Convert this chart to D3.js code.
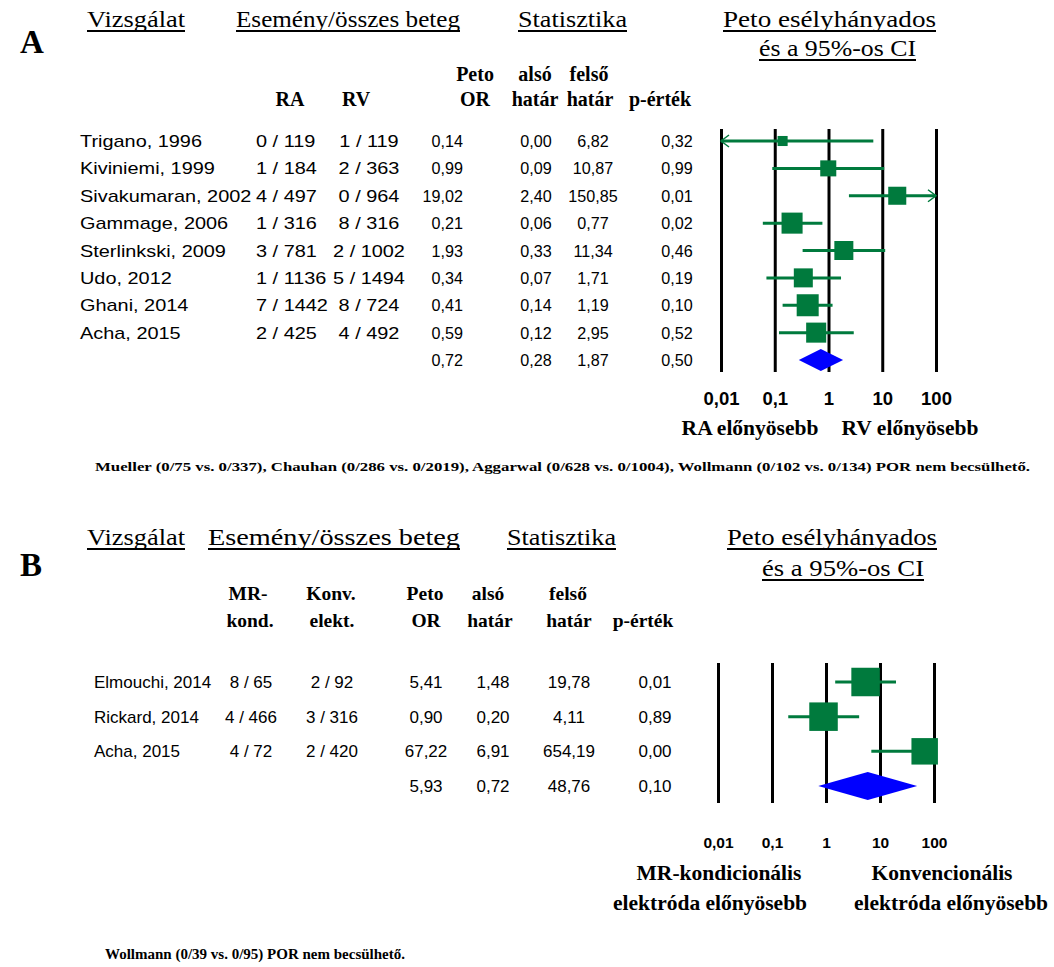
<!DOCTYPE html>
<html>
<head>
<meta charset="utf-8">
<script src="https://cdn.jsdelivr.net/npm/d3@7"></script>
<style>
body { margin: 0; background: #fff; }
svg { display: block; }
</style>
</head>
<body>
<svg id="chart" width="1054" height="967"></svg>
<script>
'use strict';

// --- panel A: RA vs RV ---
const studiesA = ['Trigano, 1996', 'Kiviniemi, 1999', 'Sivakumaran, 2002', 'Gammage, 2006',
	'Sterlinkski, 2009', 'Udo, 2012', 'Ghani, 2014', 'Acha, 2015'];
const raA = ['0 / 119', '1 / 184', '4 / 497', '1 / 316', '3 / 781', '1 / 1136', '7 / 1442', '2 / 425'];
const rvA = ['1 / 119', '2 / 363', '0 / 964', '8 / 316', '2 / 1002', '5 / 1494', '8 / 724', '4 / 492'];
const orA = [0.14, 0.99, 19.02, 0.21, 1.93, 0.34, 0.41, 0.59];
const lowA = [0.00, 0.09, 2.40, 0.06, 0.33, 0.07, 0.14, 0.12];
const highA = [6.82, 10.87, 150.85, 0.77, 11.34, 1.71, 1.19, 2.95];
const pA = [0.32, 0.99, 0.01, 0.02, 0.46, 0.19, 0.10, 0.52];
const weightA = [3.7, 9.4, 11.9, 16.2, 13.2, 13.2, 17.7, 14.7];
const pooledA = [0.72, 0.28, 1.87, 0.50]; // OR, lower, upper, p
const footA = 'Mueller (0/75 vs. 0/337), Chauhan (0/286 vs. 0/2019), Aggarwal (0/628 vs. 0/1004), Wollmann (0/102 vs. 0/134) POR nem becsülhető.';

// --- panel B: MR-conditional vs conventional lead ---
const studiesB = ['Elmouchi, 2014', 'Rickard, 2014', 'Acha, 2015'];
const mrB = ['8 / 65', '4 / 466', '4 / 72'];
const konvB = ['2 / 92', '3 / 316', '2 / 420'];
const orB = [5.41, 0.90, 67.22];
const lowB = [1.48, 0.20, 6.91];
const highB = [19.78, 4.11, 654.19];
const pB = [0.01, 0.89, 0.00];
const weightB = [34.9, 34.9, 30.1];
const pooledB = [5.93, 0.72, 48.76, 0.10];
const footB = 'Wollmann (0/39 vs. 0/95) POR nem becsülhető.';

const tickValues = [0.01, 0.1, 1, 10, 100];

const svg = d3.select('#chart');
const serif = '"Liberation Serif", "Times New Roman", serif';
const sans = '"Liberation Sans", Arial, sans-serif';
const green = '#007a3d';
const blue = '#0000ff';
const huLocale = d3.formatLocale({decimal: ',', thousands: ' ', grouping: [3], currency: ['', '']});
const fmt2 = huLocale.format('.2f');
const fmtTick = d => String(d).replace('.', ',');

function addText(parent, txt, x, y, o) {
	o = o || {};
	const t = parent.append('text')
		.attr('transform', `translate(${x},${y}) scale(${o.sx || 1},1)`)
		.attr('text-anchor', o.anchor || 'start')
		.style('font-family', o.family || sans)
		.style('font-size', (o.size || 16) + 'px')
		.style('font-weight', o.weight || 'normal')
		.text(txt);
	if (o.length) {
		t.attr('textLength', o.length).attr('lengthAdjust', 'spacingAndGlyphs');
	}
	return t;
}

function addHeader(parent, txt, x, y, width, size) {
	addText(parent, txt, x, y, {family: serif, size: size, length: width});
	parent.append('line')
		.attr('x1', x).attr('x2', x + width)
		.attr('y1', y + 4).attr('y2', y + 4)
		.attr('stroke', '#000')
		.attr('stroke-width', 1.8);
}

function drawForest(g, c) {
	const x = c.x;
	const clampLo = x.domain()[0];
	const clampHi = x.domain()[1];

	const axis = d3.axisBottom(x)
		.tickValues(tickValues)
		.tickFormat(fmtTick)
		.tickSizeInner(-(c.bottom - c.top))
		.tickSizeOuter(0)
		.tickPadding(c.tickPadding);
	const ax = g.append('g')
		.attr('transform', `translate(0,${c.bottom})`)
		.call(axis);
	ax.select('.domain').remove();
	ax.selectAll('.tick line').attr('stroke', '#000').attr('stroke-width', 3);
	ax.selectAll('.tick text')
		.attr('fill', '#000')
		.style('font-family', sans)
		.style('font-weight', 'bold')
		.style('font-size', c.tickSize + 'px');

	const rows = d3.range(c.or.length);

	g.selectAll('line.ci')
		.data(rows)
		.join('line')
		.attr('class', 'ci')
		.attr('x1', i => x(Math.max(c.low[i], clampLo)))
		.attr('x2', i => x(Math.min(c.high[i], clampHi)))
		.attr('y1', i => c.y(i))
		.attr('y2', i => c.y(i))
		.attr('stroke', green)
		.attr('stroke-width', 3);

	// open arrowheads where the interval runs off the axis
	rows.forEach(i => {
		const yy = c.y(i);
		if (c.low[i] < clampLo) {
			const x0 = x(clampLo);
			g.append('path')
				.attr('d', `M${x0 + 8},${yy - 6}L${x0},${yy}L${x0 + 8},${yy + 6}`)
				.attr('fill', 'none').attr('stroke', green).attr('stroke-width', 1.5);
		}
		if (c.high[i] > clampHi) {
			const x1 = x(clampHi);
			g.append('path')
				.attr('d', `M${x1 - 8},${yy - 6}L${x1},${yy}L${x1 - 8},${yy + 6}`)
				.attr('fill', 'none').attr('stroke', green).attr('stroke-width', 1.5);
		}
	});

	g.selectAll('rect.study')
		.data(rows)
		.join('rect')
		.attr('class', 'study')
		.attr('x', i => x(c.or[i]) - c.size(c.weight[i]) / 2)
		.attr('y', i => c.y(i) - c.size(c.weight[i]) / 2)
		.attr('width', i => c.size(c.weight[i]))
		.attr('height', i => c.size(c.weight[i]))
		.attr('fill', green);

	const yp = c.y(c.or.length);
	const h = c.diamondH / 2;
	g.append('path')
		.attr('d', `M${x(c.pooled[1])},${yp}L${x(c.pooled[0])},${yp - h}L${x(c.pooled[2])},${yp}L${x(c.pooled[0])},${yp + h}Z`)
		.attr('fill', blue);
}

// ================= panel A =================
const gA = svg.append('g');
addText(gA, 'A', 20, 53, {family: serif, weight: 'bold', size: 33});
addHeader(gA, 'Vizsgálat', 87, 27, 98, 24);
addHeader(gA, 'Esemény/összes beteg', 236, 27, 224, 24);
addHeader(gA, 'Statisztika', 518, 27, 109, 24);
addHeader(gA, 'Peto esélyhányados', 723, 27, 213, 24);
addHeader(gA, 'és a 95%-os CI', 759, 56, 157, 24);

const subA = [['Peto', 475, 81], ['alsó', 535, 81], ['felső', 589, 81],
	['RA', 290, 106], ['RV', 356, 106], ['OR', 475, 106], ['határ', 535, 106],
	['határ', 590, 106], ['p-érték', 660, 106]];
subA.forEach(s => addText(gA, s[0], s[1], s[2], {family: serif, weight: 'bold', size: 20, anchor: 'middle'}));

const yA = d3.scalePoint().domain(d3.range(studiesA.length + 1)).range([141, 360]);
const baseA = i => yA(i) + 6;
const numA = {size: 17, sx: 0.95};
studiesA.forEach((s, i) => {
	addText(gA, s, 80, baseA(i), {size: 17, sx: 1.17});
	addText(gA, raA[i], 256, baseA(i), {size: 17, sx: 1.17});
	addText(gA, rvA[i], 369, baseA(i), {size: 17, sx: 1.17, anchor: 'middle'});
	addText(gA, fmt2(orA[i]), 463, baseA(i), Object.assign({anchor: 'end'}, numA));
	addText(gA, fmt2(lowA[i]), 536, baseA(i), Object.assign({anchor: 'middle'}, numA));
	addText(gA, fmt2(highA[i]), 593, baseA(i), Object.assign({anchor: 'middle'}, numA));
	addText(gA, fmt2(pA[i]), 677, baseA(i), Object.assign({anchor: 'middle'}, numA));
});
const lastA = studiesA.length;
addText(gA, fmt2(pooledA[0]), 463, baseA(lastA), Object.assign({anchor: 'end'}, numA));
addText(gA, fmt2(pooledA[1]), 536, baseA(lastA), Object.assign({anchor: 'middle'}, numA));
addText(gA, fmt2(pooledA[2]), 593, baseA(lastA), Object.assign({anchor: 'middle'}, numA));
addText(gA, fmt2(pooledA[3]), 677, baseA(lastA), Object.assign({anchor: 'middle'}, numA));

drawForest(gA, {
	x: d3.scaleLog().domain([0.01, 100]).range([721, 936]),
	y: yA,
	or: orA, low: lowA, high: highA, weight: weightA, pooled: pooledA,
	size: d3.scaleSqrt().domain([0, 17.7]).range([0, 22]),
	diamondH: 22, top: 129, bottom: 372, tickPadding: 20, tickSize: 18.5
});
addText(gA, 'RA előnyösebb', 750, 435, {family: serif, weight: 'bold', size: 21.5, anchor: 'middle'});
addText(gA, 'RV előnyösebb', 910, 435, {family: serif, weight: 'bold', size: 21.5, anchor: 'middle'});
addText(gA, footA, 95, 471, {family: serif, weight: 'bold', size: 13.5, length: 935});

// ================= panel B =================
const gB = svg.append('g');
addText(gB, 'B', 20, 576, {family: serif, weight: 'bold', size: 33});
addHeader(gB, 'Vizsgálat', 87, 545, 98, 24);
addHeader(gB, 'Esemény/összes beteg', 208, 545, 252, 24);
addHeader(gB, 'Statisztika', 507, 545, 109, 24);
addHeader(gB, 'Peto esélyhányados', 727, 545, 210, 24);
addHeader(gB, 'és a 95%-os CI', 762, 576, 162, 24);

const subB = [['MR-', 248, 600], ['Konv.', 331, 600], ['Peto', 425, 600], ['alsó', 488, 600],
	['felső', 568, 600], ['kond.', 250, 627], ['elekt.', 332, 627], ['OR', 426, 627],
	['határ', 490, 627], ['határ', 569, 627], ['p-érték', 643, 627]];
subB.forEach(s => addText(gB, s[0], s[1], s[2], {family: serif, weight: 'bold', size: 19.5, anchor: 'middle'}));

const yB = d3.scalePoint().domain(d3.range(studiesB.length + 1)).range([682, 786]);
const baseB = i => yB(i) + 6;
studiesB.forEach((s, i) => {
	addText(gB, s, 94, baseB(i), {size: 17});
	addText(gB, mrB[i], 251, baseB(i), {size: 17, anchor: 'middle'});
	addText(gB, konvB[i], 332, baseB(i), {size: 17, anchor: 'middle'});
	addText(gB, fmt2(orB[i]), 426, baseB(i), {size: 17, anchor: 'middle'});
	addText(gB, fmt2(lowB[i]), 493, baseB(i), {size: 17, anchor: 'middle'});
	addText(gB, fmt2(highB[i]), 569, baseB(i), {size: 17, anchor: 'middle'});
	addText(gB, fmt2(pB[i]), 655, baseB(i), {size: 17, anchor: 'middle'});
});
const lastB = studiesB.length;
addText(gB, fmt2(pooledB[0]), 426, baseB(lastB), {size: 17, anchor: 'middle'});
addText(gB, fmt2(pooledB[1]), 493, baseB(lastB), {size: 17, anchor: 'middle'});
addText(gB, fmt2(pooledB[2]), 569, baseB(lastB), {size: 17, anchor: 'middle'});
addText(gB, fmt2(pooledB[3]), 655, baseB(lastB), {size: 17, anchor: 'middle'});

drawForest(gB, {
	x: d3.scaleLog().domain([0.01, 100]).range([718, 934]),
	y: yB,
	or: orB, low: lowB, high: highB, weight: weightB, pooled: pooledB,
	size: d3.scaleSqrt().domain([0, 34.9]).range([0, 28.5]),
	diamondH: 28, top: 663, bottom: 803, tickPadding: 34, tickSize: 15.5
});
addText(gB, 'MR-kondicionális', 719, 880, {family: serif, weight: 'bold', size: 21.5, anchor: 'middle'});
addText(gB, 'elektróda előnyösebb', 710, 910, {family: serif, weight: 'bold', size: 21.5, anchor: 'middle'});
addText(gB, 'Konvencionális', 942, 880, {family: serif, weight: 'bold', size: 21.5, anchor: 'middle'});
addText(gB, 'elektróda előnyösebb', 951, 910, {family: serif, weight: 'bold', size: 21.5, anchor: 'middle'});
addText(gB, footB, 105, 959, {family: serif, weight: 'bold', size: 15});
</script>
</body>
</html>
